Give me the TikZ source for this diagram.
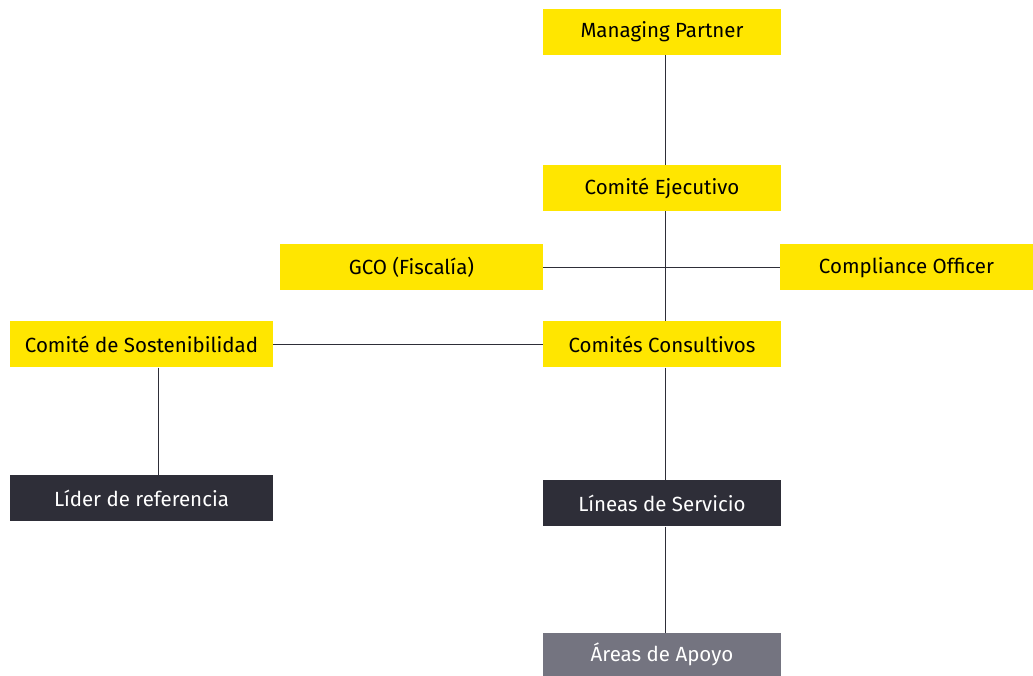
\documentclass[tikz,border=0pt]{standalone}
\usepackage{fontspec}
\setmainfont{Fira Sans}
\definecolor{eyyellow}{HTML}{FFE600}
\definecolor{eydark}{HTML}{2E2E38}
\definecolor{eygrey}{HTML}{747480}
\tikzset{
  orgbox/.style={rectangle, inner sep=0pt, minimum height=46pt, font=\fontsize{20.5}{22}\selectfont},
  yellowbox/.style={orgbox, fill=eyyellow, text=black},
  darkbox/.style={orgbox, fill=eydark, text=white},
  greybox/.style={orgbox, fill=eygrey, text=white},
  link/.style={draw=eydark, line width=1pt}
}
\newcommand{\orgnode}[4] {\node at (#1) (#2) [#3] {#4};}
\newcommand{\orglink}[2] {\draw [link] (#1) -- (#2);}

\begin{document}
\begin{tikzpicture}[x=1pt, y=-1pt]
\useasboundingbox (0,0) rectangle (1033,676);
\coordinate (spine) at (665,0);
\coordinate (leg) at (158,0);

\orgnode {662,32} {mp} {yellowbox, minimum width=238pt} {Managing Partner}
\orgnode {662,188.3} {ce} {yellowbox, minimum width=238pt} {Comité Ejecutivo}
\orgnode {411.5,267.3} {gco} {yellowbox, minimum width=263pt} {GCO (Fiscalía)}
\orgnode {906.5,267.3} {co} {yellowbox, minimum width=253pt} {Compliance Officer}
\orgnode {662,344.3} {cc} {yellowbox, minimum width=238pt} {Comités Consultivos}
\orgnode {141.5,344.3} {cs} {yellowbox, minimum width=263pt} {Comité de Sostenibilidad}
\orgnode {141.5,498.3} {lr} {darkbox, minimum width=263pt} {Líder de referencia}
\orgnode {662,503.3} {ls} {darkbox, minimum width=238pt} {Líneas de Servicio}
\orgnode {662,654.5} {aa} {greybox, minimum width=238pt, minimum height=43pt} {Áreas de Apoyo}

\orglink {mp.south -| spine} {ce.north -| spine}
\orglink {ce.south -| spine} {cc.north -| spine}
\orglink {gco.east} {co.west}
\orglink {cs.east} {cc.west}
\orglink {cc.south -| spine} {ls.north -| spine}
\orglink {ls.south -| spine} {aa.north -| spine}
\orglink {cs.south -| leg} {lr.north -| leg}
\end{tikzpicture}
\end{document}
